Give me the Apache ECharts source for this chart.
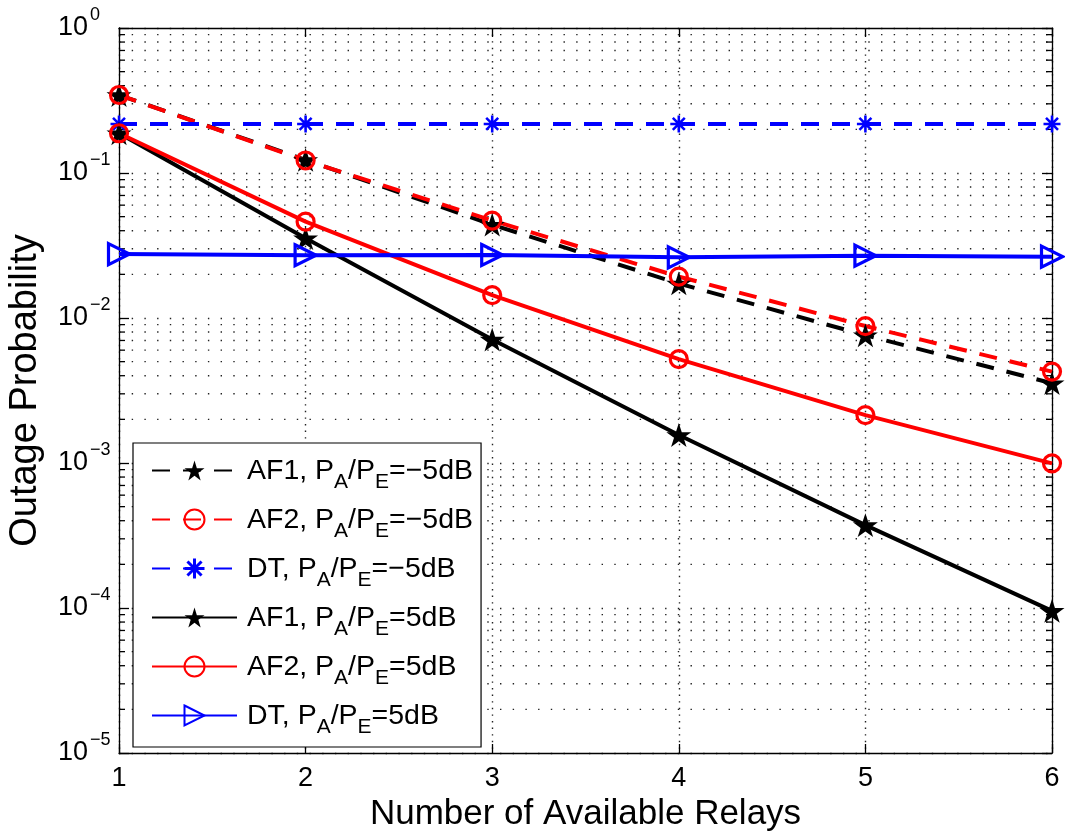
<!DOCTYPE html>
<html>
<head>
<meta charset="utf-8">
<script src="https://cdn.jsdelivr.net/npm/echarts@6/dist/echarts.min.js"></script>
<style>
  html, body { margin: 0; padding: 0; background: #fff; }
  #chart { width: 1065px; height: 836px; }
</style>
</head>
<body>
<div id="chart"></div>
<script>
// Outage probability versus number of available relays
const relays = [1, 2, 3, 4, 5, 6];

const af1Low  = [0.345, 0.123, 0.044, 0.0173, 0.0076, 0.00355];
const af2Low  = [0.345, 0.122, 0.047, 0.0193, 0.0088, 0.00427];
const dtLow   = [0.218, 0.218, 0.218, 0.218, 0.218, 0.218];
const af1High = [0.188, 0.0355, 0.0071, 0.00156, 0.000373, 0.0000955];
const af2High = [0.188, 0.0462, 0.0144, 0.0052, 0.00214, 0.000995];
const dtHigh  = [0.0276, 0.0271, 0.0272, 0.0262, 0.0269, 0.0265];

const seriesNames = [
  'AF1, P_A/P_E=−5dB',
  'AF2, P_A/P_E=−5dB',
  'DT, P_A/P_E=−5dB',
  'AF1, P_A/P_E=5dB',
  'AF2, P_A/P_E=5dB',
  'DT, P_A/P_E=5dB'
];

const yMin = 1e-5, yMax = 1;
const xMin = 1, xMax = 6;

// Log-decade minor positions (2..9 within each decade)
const minorValues = [];
for (let e = -5; e < 0; e++) {
  for (let m = 2; m <= 9; m++) minorValues.push(m * Math.pow(10, e));
}

const FONT = "'Liberation Sans', Arial, Helvetica, sans-serif";
const LINE_W = 4;
const DASH = [18, 13];
const DOTS_H = [1.4, 11.3];
const DOTS_V = [1.4, 5.2];

const starPath = 'path://M10 0 L12.245 6.910 L19.511 6.910 L13.633 11.180 L15.878 18.090 L10 13.82 L4.122 18.090 L6.367 11.180 L0.489 6.910 L7.755 6.910 Z';
const asteriskPath = 'path://M0 8.5 L20 8.5 L20 11.5 L0 11.5 Z M8.5 0 L11.5 0 L11.5 20 L8.5 20 Z M1.9 4 L4 1.9 L18.1 16 L16 18.1 Z M16 1.9 L18.1 4 L4 18.1 L1.9 16 Z';
const trianglePath = 'path://M0 0 L20 10 L0 20 Z';

function pairs(vals) { return relays.map((x, i) => [x, vals[i]]); }

function lineSeries(name, vals, color, dashed, symbol, size, hollow) {
  return {
    name: name,
    type: 'line',
    data: pairs(vals),
    symbol: symbol,
    symbolSize: size,
    symbolKeepAspect: true,
    showAllSymbol: true,
    clip: false,
    z: 3,
    lineStyle: { color: color, width: LINE_W, type: dashed ? DASH : 'solid' },
    itemStyle: hollow
      ? { color: 'rgba(255,255,255,0)', borderColor: color, borderWidth: 3.2 }
      : { color: color, borderWidth: 0 },
    emphasis: { disabled: true },
    animation: false
  };
}

// Decade exponent shown as a superscript next to the "10" base;
// the blank second line lifts it above the tick.
function exponentText(v) {
  const e = Math.round(Math.log10(v));
  return (e < 0 ? '−' + (-e) : String(e)) + '\n ';
}

const chart = echarts.init(document.getElementById('chart'), null, { renderer: 'canvas' });

const grid = { left: 119, right: 13, top: 28, bottom: 83, outerBoundsMode: 'none', containLabel: false };

const hiddenAxisParts = {
  axisLine: { show: false },
  axisTick: { show: false },
  splitLine: { show: false }
};

const option = {
  animation: false,
  backgroundColor: '#fff',
  textStyle: { fontFamily: FONT },
  grid: grid,
  xAxis: [
    {
      type: 'value', min: xMin, max: xMax, interval: 1, position: 'bottom',
      name: 'Number of Available Relays', nameLocation: 'middle', nameGap: 41,
      nameTextStyle: { fontSize: 35, color: '#000', fontFamily: FONT },
      axisLine: { lineStyle: { color: '#000', width: 1.3 } },
      axisTick: { inside: true, length: 9, lineStyle: { color: '#000', width: 1.3 } },
      axisLabel: { fontSize: 27, color: '#000', margin: 12, fontFamily: FONT },
      splitLine: { show: true, lineStyle: { color: '#222', width: 1.4, type: DOTS_V } }
    },
    {
      type: 'value', min: xMin, max: xMax, interval: 1, position: 'top',
      axisLine: { lineStyle: { color: '#000', width: 1.3 } },
      axisTick: { inside: true, length: 9, lineStyle: { color: '#000', width: 1.3 } },
      axisLabel: { show: false },
      splitLine: { show: false }
    }
  ],
  yAxis: [
    {
      type: 'log', logBase: 10, min: yMin, max: yMax, position: 'left',
      name: 'Outage Probability', nameLocation: 'middle', nameGap: 74,
      nameTextStyle: { fontSize: 38, color: '#000', fontFamily: FONT },
      axisLine: { lineStyle: { color: '#000', width: 1.3 } },
      axisTick: { inside: true, length: 10, lineStyle: { color: '#000', width: 1.3 } },
      axisLabel: {
        margin: 31, color: '#000', fontSize: 27, fontFamily: FONT,
        formatter: function () { return '10'; }
      },
      splitLine: { show: true, lineStyle: { color: '#222', width: 1.4, type: DOTS_H } }
    },
    {
      type: 'log', logBase: 10, min: yMin, max: yMax, position: 'right',
      axisLine: { lineStyle: { color: '#000', width: 1.3 } },
      axisTick: { inside: true, length: 10, lineStyle: { color: '#000', width: 1.3 } },
      axisLabel: { show: false },
      splitLine: { show: false }
    },
    Object.assign({
      // exponents of the left tick labels
      type: 'log', logBase: 10, min: yMin, max: yMax, position: 'left',
      axisLabel: {
        margin: 29, align: 'left', color: '#000', fontSize: 18, lineHeight: 26,
        fontFamily: FONT,
        formatter: exponentText
      }
    }, hiddenAxisParts)
  ],
  legend: {
    data: seriesNames,
    orient: 'vertical',
    left: 133, top: 443,
    padding: [14, 8, 9, 18],
    itemGap: 13,
    itemWidth: 85,
    itemHeight: 25,
    backgroundColor: '#fff',
    borderColor: '#000',
    borderWidth: 1.2,
    borderRadius: 0,
    selectedMode: false,
    formatter: function (name) {
      const parts = name.split('P_A/P_E');
      return '{n|' + parts[0] + 'P}{s|A}{n|/P}{s|E}{n|' + parts[1] + '}';
    },
    textStyle: {
      color: '#000', fontFamily: FONT, padding: [0, 0, 0, 5],
      rich: {
        n: { fontSize: 28.5, lineHeight: 27, verticalAlign: 'top', color: '#000', fontFamily: FONT },
        s: { fontSize: 21, lineHeight: 20, padding: [15, 0, 0, 0], verticalAlign: 'top', color: '#000', fontFamily: FONT }
      }
    }
  },
  series: [
    // Minor log grid lines and minor ticks on both vertical axes
    {
      type: 'custom',
      name: 'minor',
      silent: true,
      z: 1,
      clip: false,
      data: minorValues.map(v => [xMin, v]),
      renderItem: function (params, api) {
        const v = api.value(1);
        const p0 = api.coord([xMin, v]);
        const p1 = api.coord([xMax, v]);
        const tick = 6;
        return {
          type: 'group',
          children: [
            { type: 'line', shape: { x1: p0[0], y1: p0[1], x2: p1[0], y2: p1[1] },
              style: { stroke: '#222', lineWidth: 1.4, lineDash: DOTS_H } },
            { type: 'line', shape: { x1: p0[0], y1: p0[1], x2: p0[0] + tick, y2: p0[1] },
              style: { stroke: '#000', lineWidth: 1.3 } },
            { type: 'line', shape: { x1: p1[0] - tick, y1: p1[1], x2: p1[0], y2: p1[1] },
              style: { stroke: '#000', lineWidth: 1.3 } }
          ]
        };
      },
      animation: false
    },
    lineSeries(seriesNames[0], af1Low,  '#000000', true,  starPath,     25, false),
    lineSeries(seriesNames[1], af2Low,  '#ff0000', true,  'circle',     17, true),
    lineSeries(seriesNames[2], dtLow,   '#0000ff', true,  asteriskPath, 17, false),
    lineSeries(seriesNames[3], af1High, '#000000', false, starPath,     25, false),
    lineSeries(seriesNames[4], af2High, '#ff0000', false, 'circle',     17, true),
    lineSeries(seriesNames[5], dtHigh,  '#0000ff', false, trianglePath, 21, true)
  ]
};

chart.setOption(option);
</script>
</body>
</html>
